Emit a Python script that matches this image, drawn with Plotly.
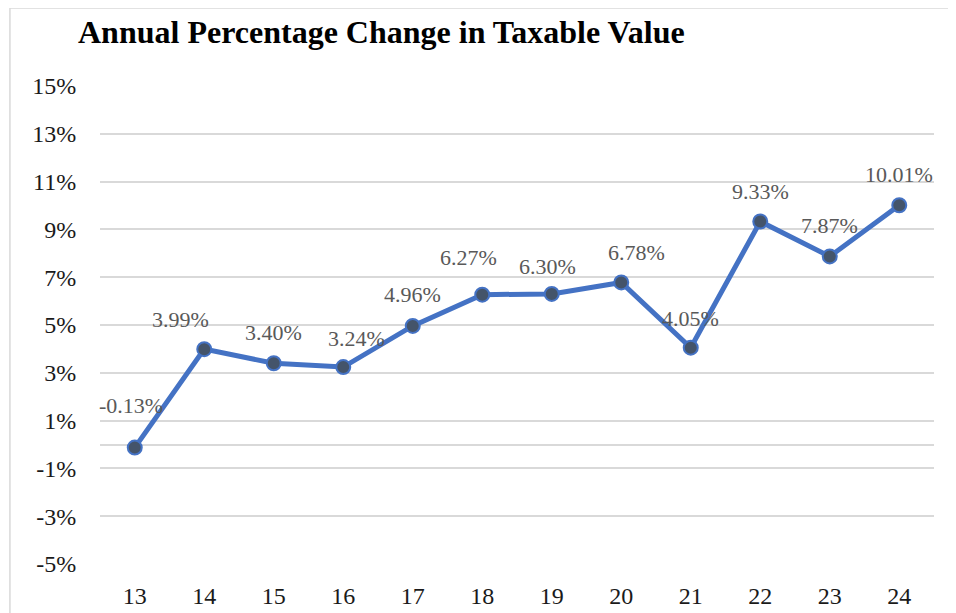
import plotly.graph_objects as go

years = ["13", "14", "15", "16", "17", "18", "19", "20", "21", "22", "23", "24"]
pct_change = [-0.13, 3.99, 3.40, 3.24, 4.96, 6.27, 6.30, 6.78, 4.05, 9.33, 7.87, 10.01]
y_ticks = [-5, -3, -1, 1, 3, 5, 7, 9, 11, 13, 15]

# label nudges (pixels), like the hand-placed labels in the original
label_dx = [-4, -24, 0, 13, 0, -14, -4, 15, 0, 0, 0, 0]
label_dy = [42, 30, 31, 29, 31, 37, 27, 30, 29, 30, 31, 31]

serif = "Liberation Serif"
blue = "#4472C4"

fig = go.Figure()
fig.add_trace(go.Scatter(
    x=years, y=pct_change, mode="lines+markers",
    line=dict(color=blue, width=5),
    marker=dict(size=14, color="#44546A", line=dict(color=blue, width=2)),
    hoverinfo="skip", showlegend=False,
))

# category axis: place labels by index so "13" isn't read as a number
for i, (v, dx, dy) in enumerate(zip(pct_change, label_dx, label_dy)):
    fig.add_annotation(
        x=i, y=v, text=f"{v:.2f}%", showarrow=False,
        xshift=dx, yshift=dy, yanchor="middle",
        font=dict(family=serif, size=22, color="#595959"),
    )

# light outer frame of the chart
fig.add_shape(type="rect", xref="paper", yref="paper",
              x0=-0.108, x1=1.2, y0=-0.3, y1=1.163,
              line=dict(color="#d9d9d9", width=1.5), layer="below")

fig.update_layout(
    width=956, height=613,
    margin=dict(l=92, r=30, t=78, b=57),
    paper_bgcolor="white", plot_bgcolor="white",
    title=dict(text="<b>Annual Percentage Change in Taxable Value</b>",
               x=70 / 956, xanchor="left", xref="container",
               y=1 - 24 / 613, yanchor="middle", yref="container",
               font=dict(family=serif, size=32, color="black")),
    xaxis=dict(type="category", range=[-0.5, 11.5], showgrid=False,
               showline=False, zeroline=False, automargin=False,
               ticks="outside", ticklen=10, tickcolor="rgba(0,0,0,0)",
               tickfont=dict(family=serif, size=24, color="#1a1a1a")),
    yaxis=dict(range=[-5, 15], tickvals=y_ticks, automargin=False,
               ticktext=[f"{t}%" for t in y_ticks],
               showgrid=True, gridcolor="#d9d9d9", gridwidth=1.5,
               zeroline=True, zerolinecolor="#d9d9d9", zerolinewidth=1.5,
               showline=False,
               ticks="outside", ticklen=18, tickcolor="rgba(0,0,0,0)",
               tickfont=dict(family=serif, size=24, color="#1a1a1a")),
)

fig.write_html("out.html")
